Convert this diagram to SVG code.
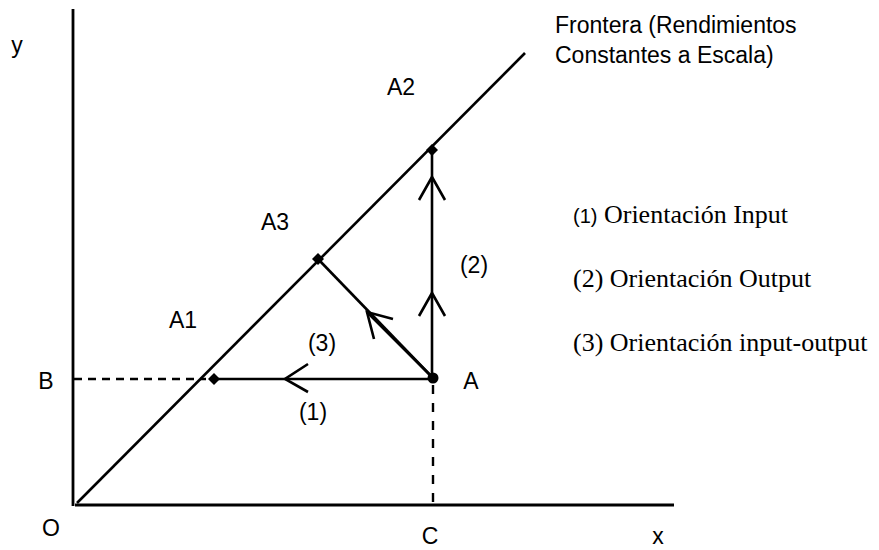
<svg xmlns="http://www.w3.org/2000/svg" width="879" height="550" viewBox="0 0 879 550">
<style>
.ax{stroke:#000;stroke-width:2.8;fill:none}
.ln{stroke:#000;stroke-width:2.6;fill:none}
.dash{stroke:#000;stroke-width:2.4;fill:none}
.chev{stroke:#000;stroke-width:2.6;fill:none;stroke-linecap:butt}
.dia{fill:#000}
.lbl{font-family:"Liberation Sans",Arial,sans-serif;font-size:23px;fill:#000}
.leg{font-family:"Liberation Serif","Times New Roman",serif;font-size:26px;fill:#000}
</style>
<rect width="879" height="550" fill="#fff"/>
<g id="axes">
<line class="ax" x1="73" y1="9" x2="73" y2="506"/>
<line class="ax" x1="75" y1="505" x2="674" y2="505"/>
<text class="lbl" x="17" y="53" text-anchor="middle">y</text>
<text class="lbl" x="658" y="544" text-anchor="middle">x</text>
<text class="lbl" x="51" y="536" text-anchor="middle">O</text>
</g>
<g id="frontier">
<line class="ln" x1="77" y1="503" x2="525" y2="53"/>
<text class="lbl" x="555" y="33" font-size="24">Frontera (Rendimientos</text>
<text class="lbl" x="555" y="63" font-size="24">Constantes a Escala)</text>
</g>
<g id="connectors">
<line class="dash" x1="74" y1="379" x2="206" y2="379" stroke-dasharray="8 6"/>
<line class="dash" x1="433" y1="385" x2="433" y2="504" stroke-dasharray="9 9"/>
<line class="ln" x1="214" y1="379" x2="433" y2="379" stroke-width="3"/>
<line class="ln" x1="432" y1="150" x2="432" y2="379" stroke-width="3"/>
<line class="ln" x1="318" y1="259" x2="433" y2="378"/>
<line class="ln" x1="367" y1="312" x2="433" y2="378" stroke-width="4.5"/>
<polyline class="chev" points="308,364 285,379 308,392"/>
<polyline class="chev" points="419,200 432,177 445,200"/>
<polyline class="chev" points="419,316 432,293 445,316"/>
<polyline class="chev" points="393,319 367,312 374,339"/>
<text class="lbl" x="474" y="273" text-anchor="middle">(2)</text>
<text class="lbl" x="322" y="351" text-anchor="middle">(3)</text>
<text class="lbl" x="313" y="420" text-anchor="middle">(1)</text>
</g>
<g id="node-A">
<circle cx="433" cy="378" r="5.5" fill="#000"/>
<text class="lbl" x="471" y="389" text-anchor="middle">A</text>
</g>
<g id="node-A1">
<text class="lbl" x="183" y="328" text-anchor="middle">A1</text>
<path class="dia" d="M214,373 L220,379 L214,385 L208,379 Z"/>
</g>
<g id="node-A2">
<text class="lbl" x="401" y="95" text-anchor="middle">A2</text>
<path class="dia" d="M432,144 L438,150 L432,156 L426,150 Z"/>
</g>
<g id="node-A3">
<text class="lbl" x="275" y="230" text-anchor="middle">A3</text>
<path class="dia" d="M318,253 L324,259 L318,265 L312,259 Z"/>
</g>
<g id="node-B">
<text class="lbl" x="46" y="389" text-anchor="middle">B</text>
</g>
<g id="node-C">
<text class="lbl" x="430" y="544" text-anchor="middle">C</text>
</g>
<g id="legend">
<text class="leg" x="573" y="223"><tspan font-family="Liberation Sans, Arial, sans-serif" font-size="20">(1)</tspan> Orientación Input</text>
<text class="leg" x="573" y="287">(2) Orientación Output</text>
<text class="leg" x="573" y="351">(3) Orientación input-output</text>
</g>
</svg>
